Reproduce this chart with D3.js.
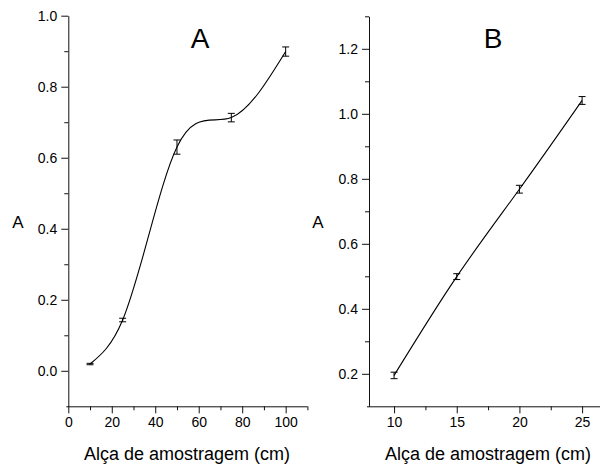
<!DOCTYPE html>
<html>
<head>
<meta charset="utf-8">
<script src="https://cdn.jsdelivr.net/npm/d3@7"></script>
<style>
  html, body { margin: 0; padding: 0; background: #fff; }
  svg { display: block; font-family: "Liberation Sans", Arial, sans-serif; }
</style>
</head>
<body>
<svg id="chart" width="600" height="465"></svg>
<script>
// ---- Data ----
const xA = [10, 25, 50, 75, 100];
const yA = [0.019, 0.143, 0.630, 0.713, 0.899];
const errA = [0.002, 0.005, 0.020, 0.012, 0.013];

const xB = [10, 15, 20, 25];
const yB = [0.195, 0.499, 0.768, 1.041];
const errB = [0.010, 0.009, 0.012, 0.012];

const xTicksA = [0, 20, 40, 60, 80, 100];
const xMinorA = [10, 30, 50, 70, 90, 110];
const yTicksA = [0.0, 0.2, 0.4, 0.6, 0.8, 1.0];
const yMinorA = [0.1, 0.3, 0.5, 0.7, 0.9];

const xTicksB = [10, 15, 20, 25];
const xMinorB = [12.5, 17.5, 22.5];
const yTicksB = [0.2, 0.4, 0.6, 0.8, 1.0, 1.2];
const yMinorB = [0.3, 0.5, 0.7, 0.9, 1.1, 1.3];

const xTitle = "Alça de amostragem (cm)";
const yTitle = "A";
const panelTitles = ["A", "B"];

// ---- Natural cubic spline y(x) curve factory for d3.line ----
function curveSplineX(context) {
  let xs, ys;
  return {
    areaStart() {}, areaEnd() {},
    lineStart() { xs = []; ys = []; },
    point(x, y) { xs.push(+x); ys.push(+y); },
    lineEnd() {
      const n = xs.length - 1;
      context.moveTo(xs[0], ys[0]);
      if (n < 2) { if (n === 1) context.lineTo(xs[1], ys[1]); return; }
      const h = [], s = [];
      for (let i = 0; i < n; i++) { h.push(xs[i + 1] - xs[i]); s.push((ys[i + 1] - ys[i]) / h[i]); }
      // tridiagonal solve for interior second derivatives, M0 = Mn = 0
      const M = new Array(n + 1).fill(0);
      const a = [], b = [], c = [], d = [];
      for (let i = 1; i < n; i++) {
        a.push(h[i - 1]); b.push(2 * (h[i - 1] + h[i])); c.push(h[i]); d.push(6 * (s[i] - s[i - 1]));
      }
      const m = b.length;
      for (let i = 1; i < m; i++) {
        const w = a[i] / b[i - 1];
        b[i] -= w * c[i - 1]; d[i] -= w * d[i - 1];
      }
      const sol = new Array(m);
      sol[m - 1] = d[m - 1] / b[m - 1];
      for (let i = m - 2; i >= 0; i--) sol[i] = (d[i] - c[i] * sol[i + 1]) / b[i];
      for (let i = 0; i < m; i++) M[i + 1] = sol[i];
      for (let i = 0; i < n; i++) {
        const d0 = s[i] - h[i] * (2 * M[i] + M[i + 1]) / 6;
        const d1 = s[i] + h[i] * (M[i] + 2 * M[i + 1]) / 6;
        context.bezierCurveTo(
          xs[i] + h[i] / 3, ys[i] + d0 * h[i] / 3,
          xs[i + 1] - h[i] / 3, ys[i + 1] - d1 * h[i] / 3,
          xs[i + 1], ys[i + 1]);
      }
    }
  };
}

// ---- Drawing ----
const svg = d3.select("#chart");

function panel(cfg) {
  const g = svg.append("g");
  const x = d3.scaleLinear().domain(cfg.xDomain).range(cfg.xRange);
  const y = d3.scaleLinear().domain(cfg.yDomain).range(cfg.yRange);
  const x0 = cfg.xRange[0], y0 = cfg.yRange[0];

  const xAxis = d3.axisBottom(x).tickValues(cfg.xTicks).tickSize(7).tickSizeOuter(0).tickPadding(4)
    .tickFormat(d3.format("d"));
  const gx = g.append("g").attr("transform", `translate(0,${y0})`).call(xAxis);
  gx.select(".domain").attr("d", `M${cfg.xRange[0] - 2},0.5H${cfg.xRange[1]}`);
  g.append("g").attr("transform", `translate(0,${y0})`)
    .call(d3.axisBottom(x).tickValues(cfg.xMinor).tickSize(4).tickFormat(""))
    .select(".domain").remove();

  const yAxis = d3.axisLeft(y).tickValues(cfg.yTicks).tickSize(7).tickSizeOuter(0).tickPadding(4)
    .tickFormat(d3.format(".1f"));
  g.append("g").attr("transform", `translate(${x0},0)`).call(yAxis);
  g.append("g").attr("transform", `translate(${x0},0)`)
    .call(d3.axisLeft(y).tickValues(cfg.yMinor).tickSize(4).tickFormat(""))
    .select(".domain").remove();

  g.selectAll(".tick text").attr("font-size", 14).attr("font-family", "Liberation Sans, Arial, sans-serif").attr("fill", "#000");
  g.selectAll(".domain, .tick line").attr("stroke", "#111");

  const line = d3.line().x(d => x(d[0])).y(d => y(d[1])).curve(curveSplineX);
  const pts = cfg.xs.map((v, i) => [v, cfg.ys[i]]);
  g.append("path").datum(pts).attr("d", line).attr("fill", "none")
    .attr("stroke", "#000").attr("stroke-width", 1.1);

  const eb = g.append("g").attr("stroke", "#000").attr("stroke-width", 1);
  pts.forEach((p, i) => {
    const cx = x(p[0]), top = y(p[1] + cfg.errs[i]), bot = y(p[1] - cfg.errs[i]);
    eb.append("line").attr("x1", cx).attr("x2", cx).attr("y1", top).attr("y2", bot);
    eb.append("line").attr("x1", cx - 3.5).attr("x2", cx + 3.5).attr("y1", top).attr("y2", top);
    eb.append("line").attr("x1", cx - 3.5).attr("x2", cx + 3.5).attr("y1", bot).attr("y2", bot);
  });

  g.append("text").attr("x", cfg.titleX).attr("y", 48).attr("text-anchor", "middle")
    .attr("font-size", 28).text(cfg.title);
  g.append("text").attr("x", cfg.yTitleX).attr("y", 228).attr("text-anchor", "middle")
    .attr("font-size", 17).text(yTitle);
  g.append("text").attr("x", cfg.xTitleX).attr("y", 460).attr("text-anchor", "middle")
    .attr("font-size", 18).text(xTitle);
}

panel({
  xDomain: [0, 110], xRange: [68.3, 307.4],
  yDomain: [-0.1, 1.0], yRange: [406.3, 15.7],
  xTicks: xTicksA, xMinor: xMinorA, yTicks: yTicksA, yMinor: yMinorA,
  xs: xA, ys: yA, errs: errA,
  title: panelTitles[0], titleX: 200, yTitleX: 18, xTitleX: 187
});

panel({
  xDomain: [8, 26.5], xRange: [369, 600.9],
  yDomain: [0.1, 1.3], yRange: [406.3, 16.3],
  xTicks: xTicksB, xMinor: xMinorB, yTicks: yTicksB, yMinor: yMinorB,
  xs: xB, ys: yB, errs: errB,
  title: panelTitles[1], titleX: 493, yTitleX: 318, xTitleX: 488
});
</script>
</body>
</html>
